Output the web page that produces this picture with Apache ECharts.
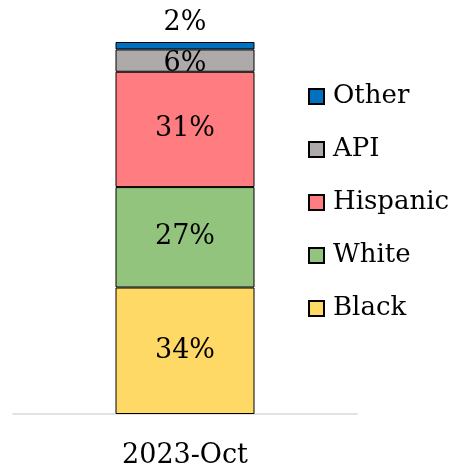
<!DOCTYPE html>
<html>
<head>
<meta charset="utf-8">
<script src="https://cdn.jsdelivr.net/npm/echarts@6/dist/echarts.min.js"></script>
<style>
  html, body { margin: 0; padding: 0; background: #fff; }
  #chart { width: 457px; height: 469px; }
</style>
</head>
<body>
<div id="chart"></div>
<script>
// données du graphique
const categories = ['2023-Oct'];
const groups = ['Black', 'White', 'Hispanic', 'API', 'Other'];
const black = [34];
const white = [27];
const hispanic = [31];
const api = [6];
const other = [2];
const legendOrder = ['Other', 'API', 'Hispanic', 'White', 'Black'];

const values = [black, white, hispanic, api, other];
const colors = ['#ffd966', '#93c47d', '#ff7c80', '#aeaaaa', '#0070c0'];
const font = 'DejaVu Serif';

const chart = echarts.init(document.getElementById('chart'));

const series = groups.map((name, i) => ({
  name: name,
  type: 'bar',
  stack: 'total',
  barWidth: 139,
  data: values[i],
  itemStyle: {
    color: colors[i],
    borderColor: '#000',
    borderWidth: 1
  },
  label: {
    show: true,
    position: name === 'Other' ? 'top' : 'inside',
    distance: 6,
    offset: name === 'API' ? [0, 3] : [0, 0],
    formatter: '{c}%',
    color: '#000',
    fontFamily: font,
    fontSize: 27
  }
}));

chart.setOption({
  animation: false,
  textStyle: { fontFamily: font },
  grid: { left: 13, right: 100, top: 42, bottom: 55, outerBoundsMode: 'none' },
  legend: {
    orient: 'vertical',
    left: 308,
    top: 81,
    padding: 0,
    data: legendOrder,
    icon: 'rect',
    itemWidth: 15,
    itemHeight: 15,
    itemGap: 22,
    textStyle: { color: '#000', fontFamily: font, fontSize: 26, lineHeight: 31, padding: [0, 0, 0, 4] }
  },
  xAxis: {
    type: 'category',
    data: categories,
    axisLine: { lineStyle: { color: '#d9d9d9', width: 1.5 } },
    axisTick: { show: false },
    axisLabel: { color: '#000', fontFamily: font, fontSize: 27, margin: 28 }
  },
  yAxis: {
    type: 'value',
    min: 0,
    max: 100,
    show: false
  },
  series: series
});
</script>
</body>
</html>
